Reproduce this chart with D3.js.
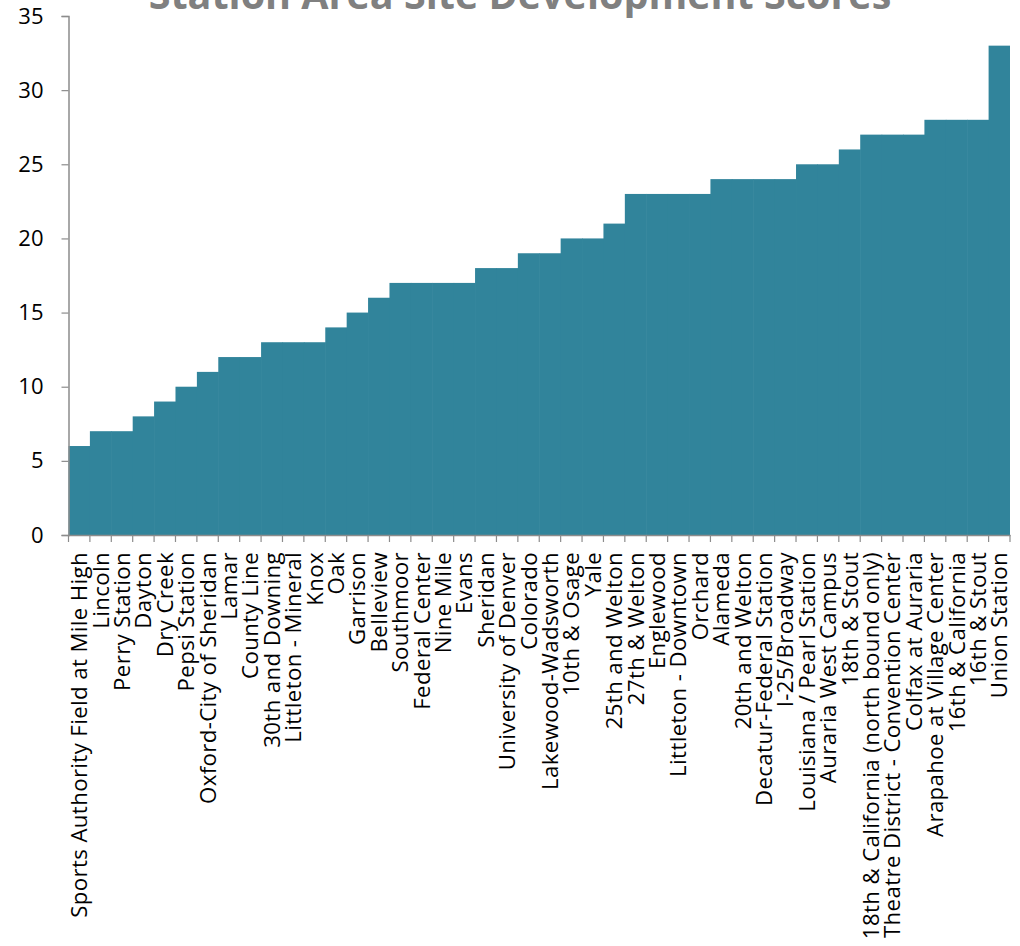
<!DOCTYPE html>
<html>
<head>
<meta charset="utf-8">
<script src="https://cdn.jsdelivr.net/npm/d3@7"></script>
<style>
  html, body { margin: 0; padding: 0; background: #ffffff; }
  svg { display: block; }
</style>
</head>
<body>
<svg id="chart" width="1020" height="946"></svg>
<script>
const categories = [
  "Sports Authority Field at Mile High", "Lincoln", "Perry Station", "Dayton", "Dry Creek",
  "Pepsi Station", "Oxford-City of Sheridan", "Lamar", "County Line", "30th and Downing",
  "Littleton - Mineral", "Knox", "Oak", "Garrison", "Belleview", "Southmoor",
  "Federal Center", "Nine Mile", "Evans", "Sheridan", "University of Denver", "Colorado",
  "Lakewood-Wadsworth", "10th & Osage", "Yale", "25th and Welton", "27th & Welton",
  "Englewood", "Littleton - Downtown", "Orchard", "Alameda", "20th and Welton",
  "Decatur-Federal Station", "I-25/Broadway", "Louisiana / Pearl Station",
  "Auraria West Campus", "18th & Stout", "18th & California (north bound only)",
  "Theatre District - Convention Center", "Colfax at Auraria", "Arapahoe at Village Center",
  "16th & California", "16th & Stout", "Union Station"
];
const scores = [
  6, 7, 7, 8, 9, 10, 11, 12, 12, 13, 13, 13, 14, 15, 16, 17, 17, 17, 17, 18, 18, 19,
  19, 20, 20, 21, 23, 23, 23, 23, 24, 24, 24, 24, 25, 25, 26, 27, 27, 27, 28, 28, 28, 33
];
const yTicks = [0, 5, 10, 15, 20, 25, 30, 35];
const title = "Station Area Site Development Scores";

(function () {
const svg = d3.select("#chart");
const mLeft = 68.5, mRight = 1010, mTop = 16, mBottom = 535;
const font = "'Open Sans', 'Noto Sans', sans-serif";

const x = d3.scaleBand().domain(categories).range([mLeft, mRight]).padding(0);
const y = d3.scaleLinear().domain([0, 35]).range([mBottom, mTop]);

// Title
svg.append("text")
  .attr("x", 520).attr("y", 9)
  .attr("text-anchor", "middle")
  .attr("font-family", font).attr("font-weight", "bold")
  .attr("font-size", 39.5).attr("fill", "#808080")
  .text(title);

// Bars (no gaps)
svg.append("g").selectAll("rect").data(scores).join("rect")
  .attr("x", (d, i) => x(categories[i]))
  .attr("width", (d, i) => x.bandwidth() + (i < scores.length - 1 ? 0.6 : 0))
  .attr("y", d => y(d))
  .attr("height", d => y(0) - y(d))
  .attr("fill", "#31849b");

// Y axis
const yAxis = svg.append("g").attr("transform", `translate(${mLeft},0)`)
  .call(d3.axisLeft(y).tickValues(yTicks).tickSize(7).tickPadding(18));
yAxis.select(".domain").attr("stroke", "#8c8c8c").attr("stroke-width", 1.5);
yAxis.selectAll(".tick line").attr("stroke", "#8c8c8c").attr("stroke-width", 1.2);
yAxis.selectAll(".tick text").attr("font-family", font).attr("font-size", 22).attr("fill", "#000");

// X axis baseline and boundary ticks
const xAxis = svg.append("g").attr("transform", `translate(0,${mBottom})`)
  .call(d3.axisBottom(x).tickSize(0).tickPadding(0).tickSizeOuter(0));
xAxis.select(".domain").attr("stroke", "#8c8c8c").attr("stroke-width", 1.5);
xAxis.selectAll(".tick text")
  .attr("font-family", font).attr("font-size", 22.2).attr("fill", "#000")
  .attr("letter-spacing", "0.4px")
  .attr("text-anchor", "end")
  .attr("transform", "rotate(-90)")
  .attr("x", -17).attr("y", 0).attr("dy", "0.36em");

const bounds = categories.map(c => x(c)).concat([x.range()[1]]);
xAxis.append("g").selectAll("line").data(bounds).join("line")
  .attr("x1", d => d).attr("x2", d => d)
  .attr("y1", 0).attr("y2", 7)
  .attr("stroke", "#8c8c8c").attr("stroke-width", 1.2);
})();
</script>
</body>
</html>
